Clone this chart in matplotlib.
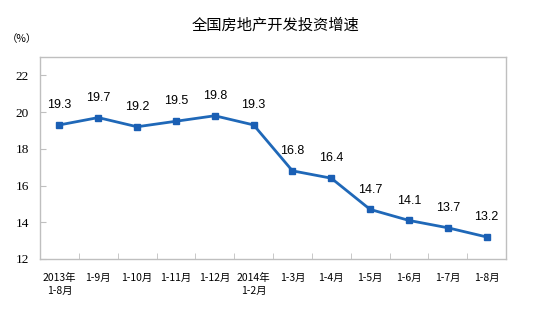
import matplotlib

matplotlib.use("Agg")
import matplotlib.pyplot as plt

categories = ["2013年\n1-8月", "1-9月", "1-10月", "1-11月", "1-12月", "2014年\n1-2月",
              "1-3月", "1-4月", "1-5月", "1-6月", "1-7月", "1-8月"]
growth = [19.3, 19.7, 19.2, 19.5, 19.8, 19.3, 16.8, 16.4, 14.7, 14.1, 13.7, 13.2]
y_ticks = [12, 14, 16, 18, 20, 22]

plt.rcParams["font.family"] = ["Noto Sans CJK SC", "DejaVu Sans"]

fig = plt.figure(figsize=(5.54, 3.35), dpi=100)
ax = fig.add_axes([0.0722, 0.2269, 0.8412, 0.6030])

x = list(range(len(categories)))
line_color = "#1F68B8"
ax.plot(x, growth, color=line_color, linewidth=2, marker="s", markersize=5,
        markerfacecolor="#1A5FB4", markeredgecolor="#1A5FB4")

for xi, v in zip(x, growth):
    ax.annotate(f"{v:.1f}", (xi, v), xytext=(0, 10), textcoords="offset points",
                ha="center", va="bottom", fontsize=9, family="Liberation Sans")

ax.set_xlim(-0.5, len(categories) - 0.5)
ax.set_ylim(12, 23)
ax.set_yticks(y_ticks)
ax.set_yticklabels([str(t) for t in y_ticks], family="Liberation Serif", fontsize=9.5)
ax.set_xticks(x)
ax.set_xticklabels(categories, fontsize=7.5, linespacing=1.4, va="top")
ax.set_xticks([i + 0.5 for i in x[:-1]], minor=True)
ax.tick_params(axis="x", which="major", length=0, pad=10)
ax.tick_params(axis="x", which="minor", length=4, direction="in", color="#BFBFBF")
ax.tick_params(axis="y", length=4, direction="in", color="#BFBFBF", pad=8)

for spine in ax.spines.values():
    spine.set_color("#BFBFBF")
    spine.set_linewidth(1)

fig.text(0.497, 0.925, "全国房地产开发投资增速", ha="center", va="center", fontsize=11)
fig.text(0.04, 0.885, "（%）", ha="center", va="center", fontsize=7.5)

fig.savefig("out.png", dpi=100)
